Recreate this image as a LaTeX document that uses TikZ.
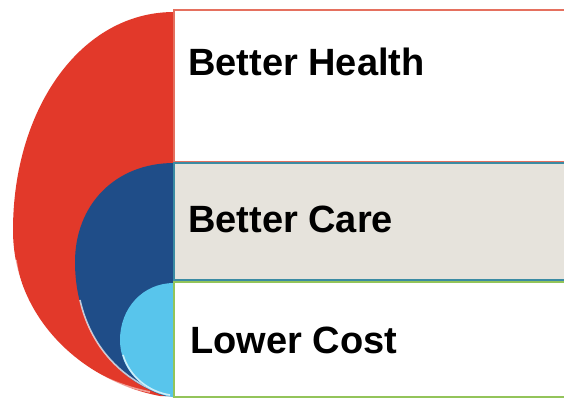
\documentclass[tikz,border=0pt]{standalone}
\usepackage{fontspec}
\setmainfont{Liberation Sans}
\definecolor{cred}{HTML}{E2392A}
\definecolor{cdblue}{HTML}{1F4D88}
\definecolor{clblue}{HTML}{58C5EC}
\definecolor{cgray}{HTML}{E6E3DC}
\definecolor{credline}{HTML}{E5705F}
\definecolor{ctealline}{HTML}{3B8BA3}
\definecolor{cgreenline}{HTML}{93C45A}
\tikzset{
  lbl/.style={anchor=base west, inner sep=0pt, font=\fontsize{38}{38}\selectfont\bfseries},
  shine/.style={draw=white, line width=1.6pt, opacity=0.7},
}
\begin{document}
\begin{tikzpicture}[x=1pt,y=-1pt]
\useasboundingbox (0,0) rectangle (564,399);
\fill[white] (0,0) rectangle (564,399);
% red shape
\fill[cred] (174,12) .. controls (80,12) and (13,110) .. (13,230)
  .. controls (13,320) and (85,382) .. (160,396) -- (174,396) -- cycle;
\draw[shine, opacity=0.5] (16,260) .. controls (25,330) and (80,378) .. (150,392);
% dark blue shape
\fill[cdblue] (174,163) .. controls (115,163) and (75,205) .. (75,262)
  .. controls (75,330) and (115,380) .. (165,396) -- (174,396) -- cycle;
\draw[shine] (80,300) .. controls (90,345) and (120,378) .. (160,393);
% light blue shape
\fill[clblue] (174,283) .. controls (143,283) and (120,308) .. (120,340)
  .. controls (120,370) and (143,392) .. (172,397) -- (174,397) -- cycle;
\draw[shine] (123,355) .. controls (130,378) and (150,392) .. (170,395);
% boxes
\draw[credline, line width=1.5pt, fill=white] (174,10) rectangle (570,162);
\draw[ctealline, line width=2pt, fill=cgray] (174,163) rectangle (570,280);
\draw[cgreenline, line width=1.5pt, fill=white] (174,282) rectangle (570,397);
% labels
\node[lbl] (health) at (188,75) {Better Health};
\node[lbl] (care) at (188,232) {Better Care};
\node[lbl] (cost) at (190,353) {Lower Cost};
\end{tikzpicture}
\end{document}
